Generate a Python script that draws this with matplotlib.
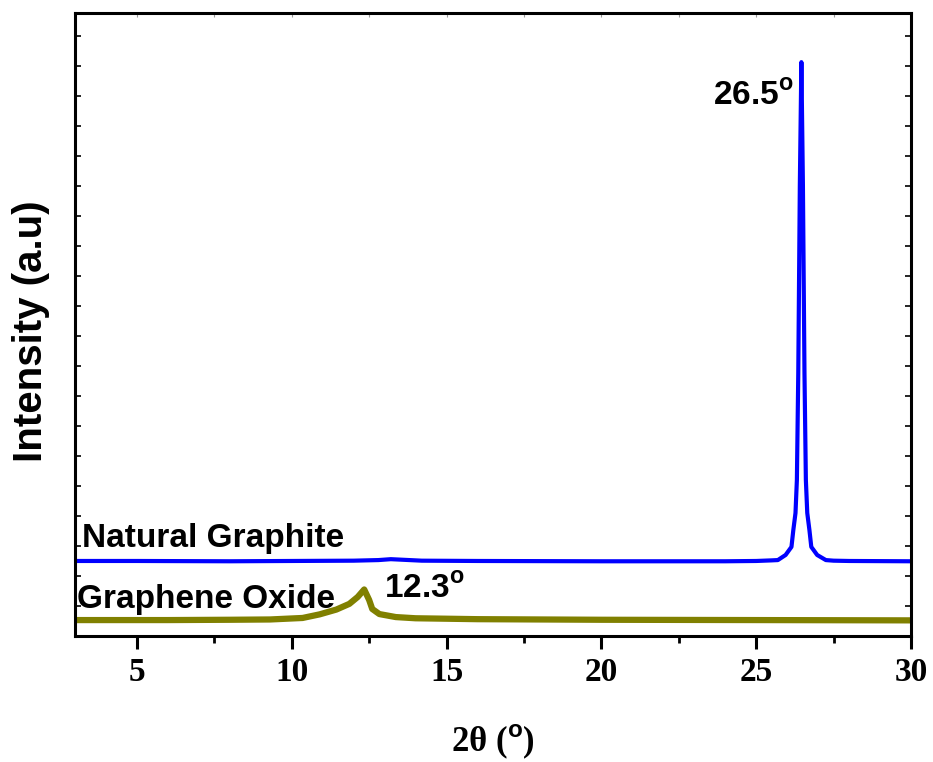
import matplotlib
matplotlib.use("Agg")
import matplotlib.pyplot as plt
from matplotlib.ticker import MultipleLocator

plt.rcParams['mathtext.fontset'] = 'custom'
plt.rcParams['mathtext.rm'] = 'Liberation Sans:bold'
plt.rcParams['mathtext.bf'] = 'Liberation Sans:bold'

# Natural Graphite (two-theta, intensity a.u.)
ng_x = [3.0, 5.0, 8.0, 10.0, 12.0, 12.8, 13.2, 13.6, 14.2, 16.0, 20.0, 24.0, 25.0, 25.5,
        25.70, 25.95, 26.14, 26.20, 26.27, 26.315, 26.36, 26.41, 26.46, 26.51, 26.56,
        26.605, 26.65, 26.72, 26.78, 26.97, 27.25, 27.5, 28.0, 30.0]
ng_y = [2.50, 2.50, 2.49, 2.50, 2.51, 2.53, 2.56, 2.54, 2.51, 2.50, 2.49, 2.49, 2.50, 2.52,
        2.53, 2.70, 2.97, 3.53, 4.10, 5.20, 8.77, 15.0, 19.13, 15.0, 8.77,
        5.20, 4.10, 3.53, 2.97, 2.70, 2.53, 2.51, 2.50, 2.49]

# Graphene Oxide
go_x = [3.0, 6.0, 8.0, 9.3, 10.35, 10.9, 11.44, 11.86, 12.13, 12.34, 12.5, 12.6, 12.83,
        13.36, 14.0, 16.0, 20.0, 25.0, 30.0]
go_y = [0.53, 0.53, 0.54, 0.55, 0.60, 0.72, 0.88, 1.07, 1.30, 1.55, 1.20, 0.90, 0.73,
        0.63, 0.59, 0.56, 0.54, 0.53, 0.52]

labels = ["Natural Graphite", "Graphene Oxide"]
peak_labels = ["26.5$^\\mathrm{o}$", "12.3$^\\mathrm{o}$"]

fig = plt.figure(figsize=(9.33, 7.62), dpi=100)
ax = fig.add_axes([0.0804, 0.1654, 0.8960, 0.8176])

ax.plot(ng_x, ng_y, color='#0000FF', lw=3.0, solid_joinstyle='round')
ax.plot(go_x, go_y, color='#808000', lw=4.5, solid_joinstyle='round')

ax.set_xlim(3, 30)
ax.set_ylim(0, 20.77)

ax.xaxis.set_major_locator(MultipleLocator(5))
ax.xaxis.set_minor_locator(MultipleLocator(2.5))
ax.yaxis.set_major_locator(MultipleLocator(1))
ax.set_yticklabels([])

ax.tick_params(axis='x', which='major', direction='out', length=9, width=2.2,
               bottom=True, top=False, pad=6)
ax.tick_params(axis='x', which='minor', direction='out', length=5, width=2.0,
               bottom=True, top=False)
ax.tick_params(axis='y', which='major', direction='in', length=4, width=1.2,
               left=True, right=True, labelleft=False)

# top inward ticks
axt = ax.secondary_xaxis('top')
axt.xaxis.set_major_locator(MultipleLocator(2.5))
axt.tick_params(direction='in', length=3, width=0.8, colors='#999999', labeltop=False)
axt.set_xticklabels([])
axt.spines['top'].set_visible(False)

for s in ax.spines.values():
    s.set_linewidth(2.2)

for lab in ax.get_xticklabels():
    lab.set_fontfamily('Liberation Serif')
    lab.set_fontweight('bold')
    lab.set_fontsize(24)

ax.set_xlabel("2θ ($^\\mathrm{o}$)", fontfamily='Liberation Serif', fontweight='bold',
              fontsize=25, labelpad=25)
ax.set_ylabel("Intensity (a.u)", fontfamily='Liberation Sans', fontweight='bold',
              fontsize=29)
ax.yaxis.set_label_coords(-0.030, 0.49)

tk = dict(fontfamily='Liberation Sans', fontweight='bold', fontsize=24, va='baseline', ha='left')
ax.text(3.23, 2.97, labels[0], **tk)
ax.text(3.06, 0.93, labels[1], **tk)
ax.text(23.62, 17.7, peak_labels[0], **tk)
ax.text(12.99, 1.27, peak_labels[1], **tk)

fig.savefig("out.png", dpi=100)
